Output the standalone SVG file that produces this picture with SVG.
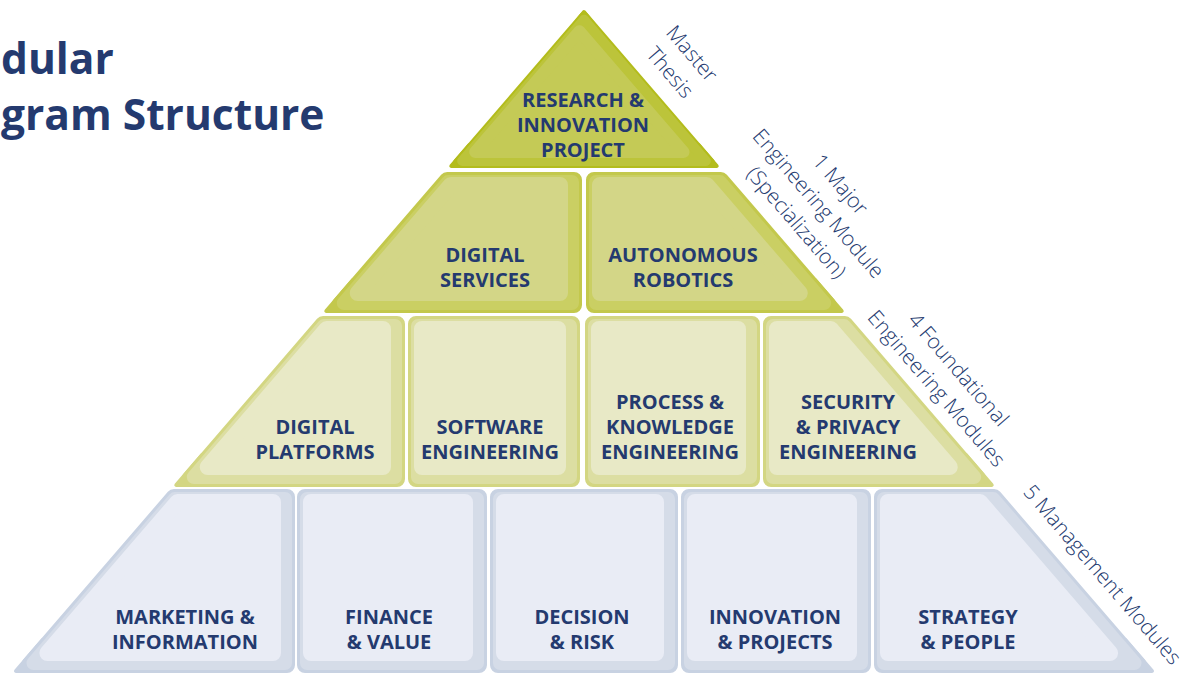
<svg xmlns="http://www.w3.org/2000/svg" width="1190" height="676" viewBox="0 0 1190 676">
<style>
polygon{stroke-linejoin:round}
.r1a{fill:#b3bc1c;stroke:#b3bc1c;stroke-width:10}
.r1b{fill:#bcc43a;stroke:#bcc43a;stroke-width:10}
.r1c{fill:#c4ca56;stroke:#c4ca56;stroke-width:12}
.r2a{fill:#c3c84c;stroke:#c3c84c;stroke-width:16}
.r2b{fill:#cacf63;stroke:#cacf63;stroke-width:14}
.r2c{fill:#d3d687;stroke:#d3d687;stroke-width:16}
.r3a{fill:#d3d682;stroke:#d3d682;stroke-width:16}
.r3b{fill:#dcdea2;stroke:#dcdea2;stroke-width:14}
.r3c{fill:#e8e9c6;stroke:#e8e9c6;stroke-width:16}
.r4a{fill:#c8d2e2;stroke:#c8d2e2;stroke-width:16}
.r4b{fill:#d5dce8;stroke:#d5dce8;stroke-width:14}
.r4c{fill:#e9ecf5;stroke:#e9ecf5;stroke-width:16}
.tip{stroke-width:4}
.lbl{font-family:"Open Sans","Liberation Sans",sans-serif;font-weight:700;font-size:20px;fill:#243a6f;text-anchor:middle}
.side{font-family:"Open Sans","Liberation Sans",sans-serif;font-weight:300;font-size:21px;fill:#243a6f;text-anchor:middle}
.title{font-family:"Open Sans","Liberation Sans",sans-serif;font-weight:700;font-size:42.5px;fill:#243a6f}
</style>
<rect width="1190" height="676" fill="#ffffff"/>
<g id="title">
<text class="title" x="1" y="74">dular</text>
<text class="title" x="1" y="130">gram Structure</text>
</g>
<g id="connectors"/>
<g id="research-innovation-project">
<polygon class="r1a" points="584,16.7 710.1,163 457.9,163"/>
<polygon class="r1a tip" points="451.3,166 490,166 490,145 469.4,145"/>
<polygon class="r1a tip" points="716.7,166 678,166 678,145 698.6,145"/>
<polygon class="r1a tip" points="584,12 598,30 570,30"/>
<polygon class="r1b" points="584,19.7 705.8,161 462.2,161"/>
<polygon class="r1c" points="579.4,31.2 683.5,152 475.2,152"/>
<text class="lbl" x="583" y="107">RESEARCH &amp;</text>
<text class="lbl" x="583" y="132">INNOVATION</text>
<text class="lbl" x="583" y="157">PROJECT</text>
</g>
<g id="digital-services">
<polygon class="r2a" points="447.2,180 574,180 574,305 339.4,305"/>
<polygon class="r2a tip" points="326.3,311 380,311 380,280 353,280"/>
<polygon class="r2b" points="448.1,182 572,182 572,303 343.8,303"/>
<polygon class="r2c" points="450.8,185 560,185 560,293 357.7,293"/>
<text class="lbl" x="485" y="262">DIGITAL</text>
<text class="lbl" x="485" y="287">SERVICES</text>
</g>
<g id="autonomous-robotics">
<polygon class="r2a" points="594,180 720.8,180 828.6,305 594,305"/>
<polygon class="r2a tip" points="841.7,311 788,311 788,280 815,280"/>
<polygon class="r2b" points="596,182 719.9,182 824.2,303 596,303"/>
<polygon class="r2c" points="600,185 706.7,185 799.8,293 600,293"/>
<text class="lbl" x="683" y="262">AUTONOMOUS</text>
<text class="lbl" x="683" y="287">ROBOTICS</text>
</g>
<g id="digital-platforms">
<polygon class="r3a" points="323.1,324 397,324 397,479 189.5,479"/>
<polygon class="r3a tip" points="176.3,485 230,485 230,455 202.1,455"/>
<polygon class="r3b" points="323.9,326 395,326 395,477 193.8,477"/>
<polygon class="r3c" points="326.7,329 383,329 383,467 207.7,467"/>
<text class="lbl" x="315" y="434">DIGITAL</text>
<text class="lbl" x="315" y="459">PLATFORMS</text>
</g>
<g id="software-engineering">
<polygon class="r3a" points="416,324 572,324 572,479 416,479"/>
<polygon class="r3b" points="418,326 570,326 570,477 418,477"/>
<polygon class="r3c" points="422,329 558,329 558,467 422,467"/>
<text class="lbl" x="490" y="434">SOFTWARE</text>
<text class="lbl" x="490" y="459">ENGINEERING</text>
</g>
<g id="process-knowledge-engineering">
<polygon class="r3a" points="593,324 752,324 752,479 593,479"/>
<polygon class="r3b" points="595,326 750,326 750,477 595,477"/>
<polygon class="r3c" points="599,329 738,329 738,467 599,467"/>
<text class="lbl" x="670" y="409">PROCESS &amp;</text>
<text class="lbl" x="670" y="434">KNOWLEDGE</text>
<text class="lbl" x="670" y="459">ENGINEERING</text>
</g>
<g id="security-privacy-engineering">
<polygon class="r3a" points="771,324 844.9,324 978.5,479 771,479"/>
<polygon class="r3a tip" points="991.7,485 938,485 938,455 965.9,455"/>
<polygon class="r3b" points="773,326 844.1,326 974.2,477 773,477"/>
<polygon class="r3c" points="777,329 830.8,329 949.8,467 777,467"/>
<text class="lbl" x="848" y="409">SECURITY</text>
<text class="lbl" x="848" y="434">&amp; PRIVACY</text>
<text class="lbl" x="848" y="459">ENGINEERING</text>
</g>
<g id="marketing-information">
<polygon class="r4a" points="173.9,497 287,497 287,665 29.1,665"/>
<polygon class="r4a tip" points="16,671 70,671 70,640 42.7,640"/>
<polygon class="r4b" points="174.8,499 285,499 285,663 33.5,663"/>
<polygon class="r4c" points="177.5,502 273,502 273,653 47.4,653"/>
<text class="lbl" x="185" y="624">MARKETING &amp;</text>
<text class="lbl" x="185" y="649">INFORMATION</text>
</g>
<g id="finance-value">
<polygon class="r4a" points="305,497 479,497 479,665 305,665"/>
<polygon class="r4b" points="307,499 477,499 477,663 307,663"/>
<polygon class="r4c" points="311,502 465,502 465,653 311,653"/>
<text class="lbl" x="389" y="624">FINANCE</text>
<text class="lbl" x="389" y="649">&amp; VALUE</text>
</g>
<g id="decision-risk">
<polygon class="r4a" points="498,497 670,497 670,665 498,665"/>
<polygon class="r4b" points="500,499 668,499 668,663 500,663"/>
<polygon class="r4c" points="504,502 656,502 656,653 504,653"/>
<text class="lbl" x="582" y="624">DECISION</text>
<text class="lbl" x="582" y="649">&amp; RISK</text>
</g>
<g id="innovation-projects">
<polygon class="r4a" points="689,497 863,497 863,665 689,665"/>
<polygon class="r4b" points="691,499 861,499 861,663 691,663"/>
<polygon class="r4c" points="695,502 849,502 849,653 695,653"/>
<text class="lbl" x="775" y="624">INNOVATION</text>
<text class="lbl" x="775" y="649">&amp; PROJECTS</text>
</g>
<g id="strategy-people">
<polygon class="r4a" points="882,497 994.1,497 1138.9,665 882,665"/>
<polygon class="r4a tip" points="1152,671 1098,671 1098,640 1125.3,640"/>
<polygon class="r4b" points="884,499 993.2,499 1134.5,663 884,663"/>
<polygon class="r4c" points="888,502 980,502 1110.1,653 888,653"/>
<text class="lbl" x="968" y="624">STRATEGY</text>
<text class="lbl" x="968" y="649">&amp; PEOPLE</text>
</g>
<g id="label-master-thesis" transform="translate(686.5,58.3) rotate(49.3)">
<text class="side" x="0" y="0">Master</text>
<text class="side" x="0" y="29">Thesis</text>
</g>
<g id="label-major" transform="translate(835,189.3) rotate(49.3)">
<text class="side" x="0" y="0">1 Major</text>
<text class="side" x="0" y="29">Engineering Module</text>
<text class="side" x="0" y="58">(Specialization)</text>
</g>
<g id="label-foundational" transform="translate(953,374.3) rotate(49.3)">
<text class="side" x="0" y="0">4 Foundational</text>
<text class="side" x="0" y="29">Engineering Modules</text>
</g>
<g id="label-management" transform="translate(1097,579.3) rotate(49.3)">
<text class="side" x="0" y="0">5 Management Modules</text>
</g>
</svg>
